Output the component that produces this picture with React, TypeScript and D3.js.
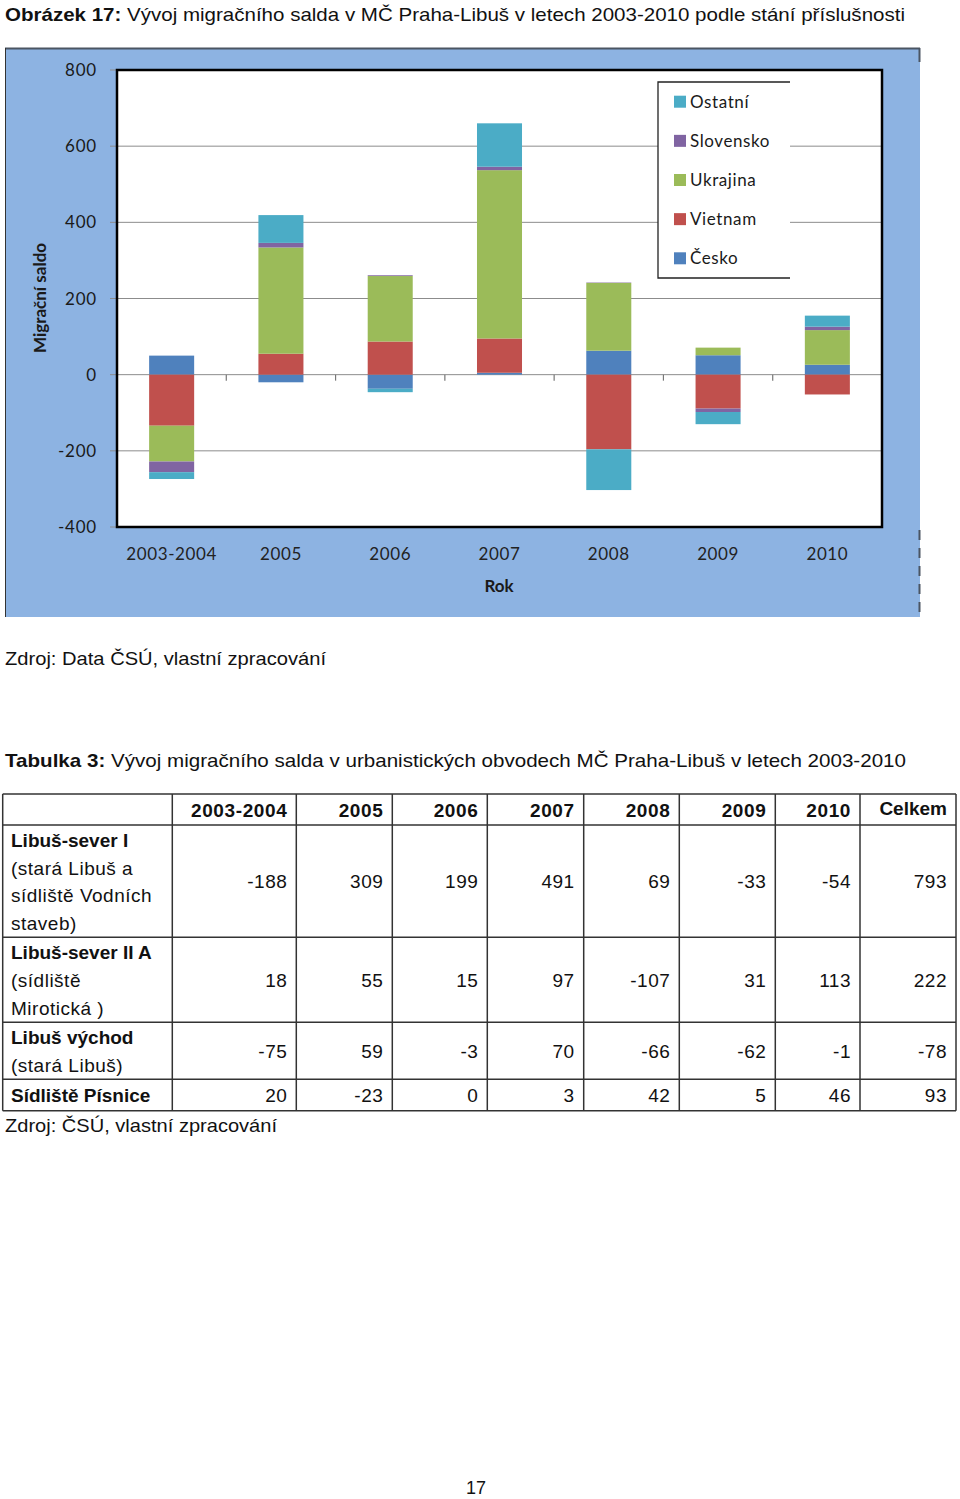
import React from "react";
import * as d3 from "d3";

const categories = ["2003-2004", "2005", "2006", "2007", "2008", "2009", "2010"];
const seriesNames = ["Česko", "Vietnam", "Ukrajina", "Slovensko", "Ostatní"];
const cesko = [50, -20, -37, 5, 63, 51, 26];
const vietnam = [-134, 55, 87, 90, -196, -89, -52];
const ukrajina = [-94, 279, 172, 442, 178, 20, 91];
const slovensko = [-28, 12, 2, 9, 1, -9, 9];
const ostatni = [-18, 73, -9, 114, -107, -32, 29];
const seriesColors = ["#4F81BD", "#C0504D", "#9BBB59", "#8064A2", "#4BACC6"];
const yTicks = [-400, -200, 0, 200, 400, 600, 800];

const tableCols = ["2003-2004", "2005", "2006", "2007", "2008", "2009", "2010", "Celkem"];
const rowLabels = [
  ["Libuš-sever I", "(stará Libuš a", "sídliště Vodních", "staveb)"],
  ["Libuš-sever II A", "(sídliště", "Mirotická )"],
  ["Libuš východ", "(stará Libuš)"],
  ["Sídliště Písnice"],
];
const row1 = [-188, 309, 199, 491, 69, -33, -54, 793];
const row2 = [18, 55, 15, 97, -107, 31, 113, 222];
const row3 = [-75, 59, -3, 70, -66, -62, -1, -78];
const row4 = [20, -23, 0, 3, 42, 5, 46, 93];
const tableRows = [row1, row2, row3, row4];

const W = 960;
const H = 1499;
const plot = { left: 117, right: 882, top: 70, bottom: 527 };
const chartFont = "Lato, 'Open Sans', sans-serif";
const docFont = "'Liberation Sans', Arial, sans-serif";

export default function App() {
  const x = d3
    .scaleBand<string>()
    .domain(categories)
    .range([plot.left, plot.right])
    .paddingInner(0.588)
    .paddingOuter(0.294);
  const y = d3.scaleLinear().domain([-400, 800]).range([plot.bottom, plot.top]);

  const rows = categories.map((c, i) => ({
    cat: c,
    "Česko": cesko[i],
    Vietnam: vietnam[i],
    Ukrajina: ukrajina[i],
    Slovensko: slovensko[i],
    "Ostatní": ostatni[i],
  }));
  const stack = d3
    .stack<any>()
    .keys(seriesNames)
    .offset(d3.stackOffsetDiverging);
  const stacked = stack(rows);

  const step = x.step();
  const boundaries = d3.range(categories.length + 1).map((i) => plot.left + i * step);

  // table layout
  const colX = [2.7, 172.3, 296.3, 392.3, 487.3, 583.7, 679.3, 775.3, 860, 956];
  const rowY = [794, 825, 937.3, 1022.3, 1079.3, 1110.7];

  const legendItems = [...seriesNames].reverse();
  const legendColors = [...seriesColors].reverse();

  return (
    <div style={{ position: "absolute", left: 0, top: 0 }}>
      <svg width={W} height={H} viewBox={`0 0 ${W} ${H}`} style={{ display: "block", background: "#fff" }}>
        {/* Figure title */}
        <text x={5} y={21} fontFamily={docFont} fontSize={19} fill="#111" textLength={900} lengthAdjust="spacingAndGlyphs">
          <tspan fontWeight="bold">Obrázek 17:</tspan>
          <tspan> Vývoj migračního salda v MČ Praha-Libuš v letech 2003-2010 podle stání příslušnosti</tspan>
        </text>

        {/* Chart background */}
        <rect x={5} y={48} width={915} height={569} fill="#8DB3E2" />
        <line x1={5} x2={920} y1={48.5} y2={48.5} stroke="#4a5563" strokeWidth={2} />
        <line x1={5.5} x2={5.5} y1={48} y2={617} stroke="#333" strokeWidth={1} />
        <line x1={919.5} x2={919.5} y1={48} y2={62} stroke="#4a5563" strokeWidth={2} />
        <line x1={919.5} x2={919.5} y1={530} y2={617} stroke="#4a5563" strokeWidth={2} strokeDasharray="10 8" />

        {/* Plot area */}
        <rect x={plot.left} y={plot.top} width={plot.right - plot.left} height={plot.bottom - plot.top} fill="#fff" />
        {yTicks.map((t) => (
          <g key={t}>
            <line x1={plot.left} x2={plot.right} y1={y(t)} y2={y(t)} stroke="#8c8c8c" strokeWidth={1} />
            <line x1={plot.left - 7} x2={plot.left} y1={y(t)} y2={y(t)} stroke="#8c8c8c" strokeWidth={1} />
            <text
              x={97}
              y={y(t) + 6}
              textAnchor="end"
              fontFamily={chartFont}
              fontSize={17}
              letterSpacing={0.8}
              fill="#1a1a1a"
            >
              {t}
            </text>
          </g>
        ))}
        {boundaries.map((b, i) => (
          <line key={i} x1={b} x2={b} y1={y(0)} y2={y(0) + 6} stroke="#777" strokeWidth={1.2} />
        ))}

        {/* Bars */}
        {stacked.map((s, si) => (
          <g key={s.key} fill={seriesColors[si]}>
            {s.map((d, i) => {
              const y0 = y(d[0]);
              const y1 = y(d[1]);
              return (
                <rect
                  key={i}
                  x={x(categories[i])}
                  width={x.bandwidth()}
                  y={Math.min(y0, y1)}
                  height={Math.abs(y0 - y1)}
                />
              );
            })}
          </g>
        ))}

        {/* Legend */}
        <rect x={658} y={82} width={132} height={196} fill="#fff" />
        <path d="M790,82 H658 V278 H790" fill="none" stroke="#222" strokeWidth={1.3} />
        {legendItems.map((name, i) => {
          const cy = 101.7 + i * 39.15;
          return (
            <g key={name}>
              <rect x={674} y={cy - 6} width={12} height={12} fill={legendColors[i]} />
              <text x={690} y={cy + 6} fontFamily={chartFont} fontSize={17} letterSpacing={0.6} fill="#1a1a1a">
                {name}
              </text>
            </g>
          );
        })}

        {/* Plot border */}
        <rect
          x={plot.left}
          y={plot.top}
          width={plot.right - plot.left}
          height={plot.bottom - plot.top}
          fill="none"
          stroke="#000"
          strokeWidth={2.5}
        />

        {/* X labels */}
        {categories.map((c) => (
          <text
            key={c}
            x={(x(c) as number) + x.bandwidth() / 2}
            y={560}
            textAnchor="middle"
            fontFamily={chartFont}
            fontSize={17}
            letterSpacing={0.6}
            fill="#222"
          >
            {c}
          </text>
        ))}
        <text x={499} y={592} textAnchor="middle" fontFamily={chartFont} fontSize={17} fontWeight="bold" fill="#1a1a1a">
          Rok
        </text>
        <text
          transform={`translate(46,298) rotate(-90)`}
          textAnchor="middle"
          fontFamily={chartFont}
          fontSize={17}
          fontWeight="bold"
          fill="#1a1a1a"
        >
          Migrační saldo
        </text>

        {/* Source */}
        <text x={5} y={665} fontFamily={docFont} fontSize={19} fill="#111" textLength={321} lengthAdjust="spacingAndGlyphs">
          Zdroj: Data ČSÚ, vlastní zpracování
        </text>

        {/* Table title */}
        <text x={5} y={767} fontFamily={docFont} fontSize={19} fill="#111" textLength={901} lengthAdjust="spacingAndGlyphs">
          <tspan fontWeight="bold">Tabulka 3:</tspan>
          <tspan> Vývoj migračního salda v urbanistických obvodech MČ Praha-Libuš v letech 2003-2010</tspan>
        </text>

        {/* Table */}
        <g stroke="#333" strokeWidth={1.5}>
          {rowY.map((ry, i) => (
            <line key={"h" + i} x1={colX[0]} x2={colX[colX.length - 1]} y1={ry} y2={ry} />
          ))}
          {colX.map((cx, i) => (
            <line key={"v" + i} x1={cx} x2={cx} y1={rowY[0]} y2={rowY[rowY.length - 1]} />
          ))}
        </g>
        {tableCols.map((c, ci) => (
          <text
            key={c}
            x={colX[ci + 2] - 9}
            y={(rowY[0] + rowY[1]) / 2 + 7 - (c === "Celkem" ? 2 : 0)}
            textAnchor="end"
            fontFamily={docFont}
            fontSize={19}
            fontWeight="bold"
            letterSpacing={c === "Celkem" ? 0 : 0.6}
            fill="#111"
          >
            {c}
          </text>
        ))}
        {tableRows.map((vals, ri) => {
          const top = rowY[ri + 1];
          const bottom = rowY[ri + 2];
          const cyv = (top + bottom) / 2 + 7;
          return (
            <g key={ri}>
              {rowLabels[ri].map((ln, li) => (
                <text
                  key={li}
                  x={11}
                  y={rowLabels[ri].length === 1 ? cyv : top + 22 + li * 27.7}
                  fontFamily={docFont}
                  fontSize={19}
                  fontWeight={li === 0 ? "bold" : "normal"}
                  letterSpacing={li === 0 ? 0 : 0.5}
                  fill="#111"
                >
                  {ln}
                </text>
              ))}
              {vals.map((v, ci) => (
                <text
                  key={ci}
                  x={colX[ci + 2] - 9}
                  y={cyv}
                  textAnchor="end"
                  fontFamily={docFont}
                  fontSize={19}
                  letterSpacing={0.5}
                  fill="#111"
                >
                  {v}
                </text>
              ))}
            </g>
          );
        })}
        <text x={5} y={1132} fontFamily={docFont} fontSize={19} fill="#111" textLength={272} lengthAdjust="spacingAndGlyphs">
          Zdroj: ČSÚ, vlastní zpracování
        </text>

        {/* Page number */}
        <text x={476} y={1494} textAnchor="middle" fontFamily={docFont} fontSize={18} fill="#111">
          17
        </text>
      </svg>
    </div>
  );
}
